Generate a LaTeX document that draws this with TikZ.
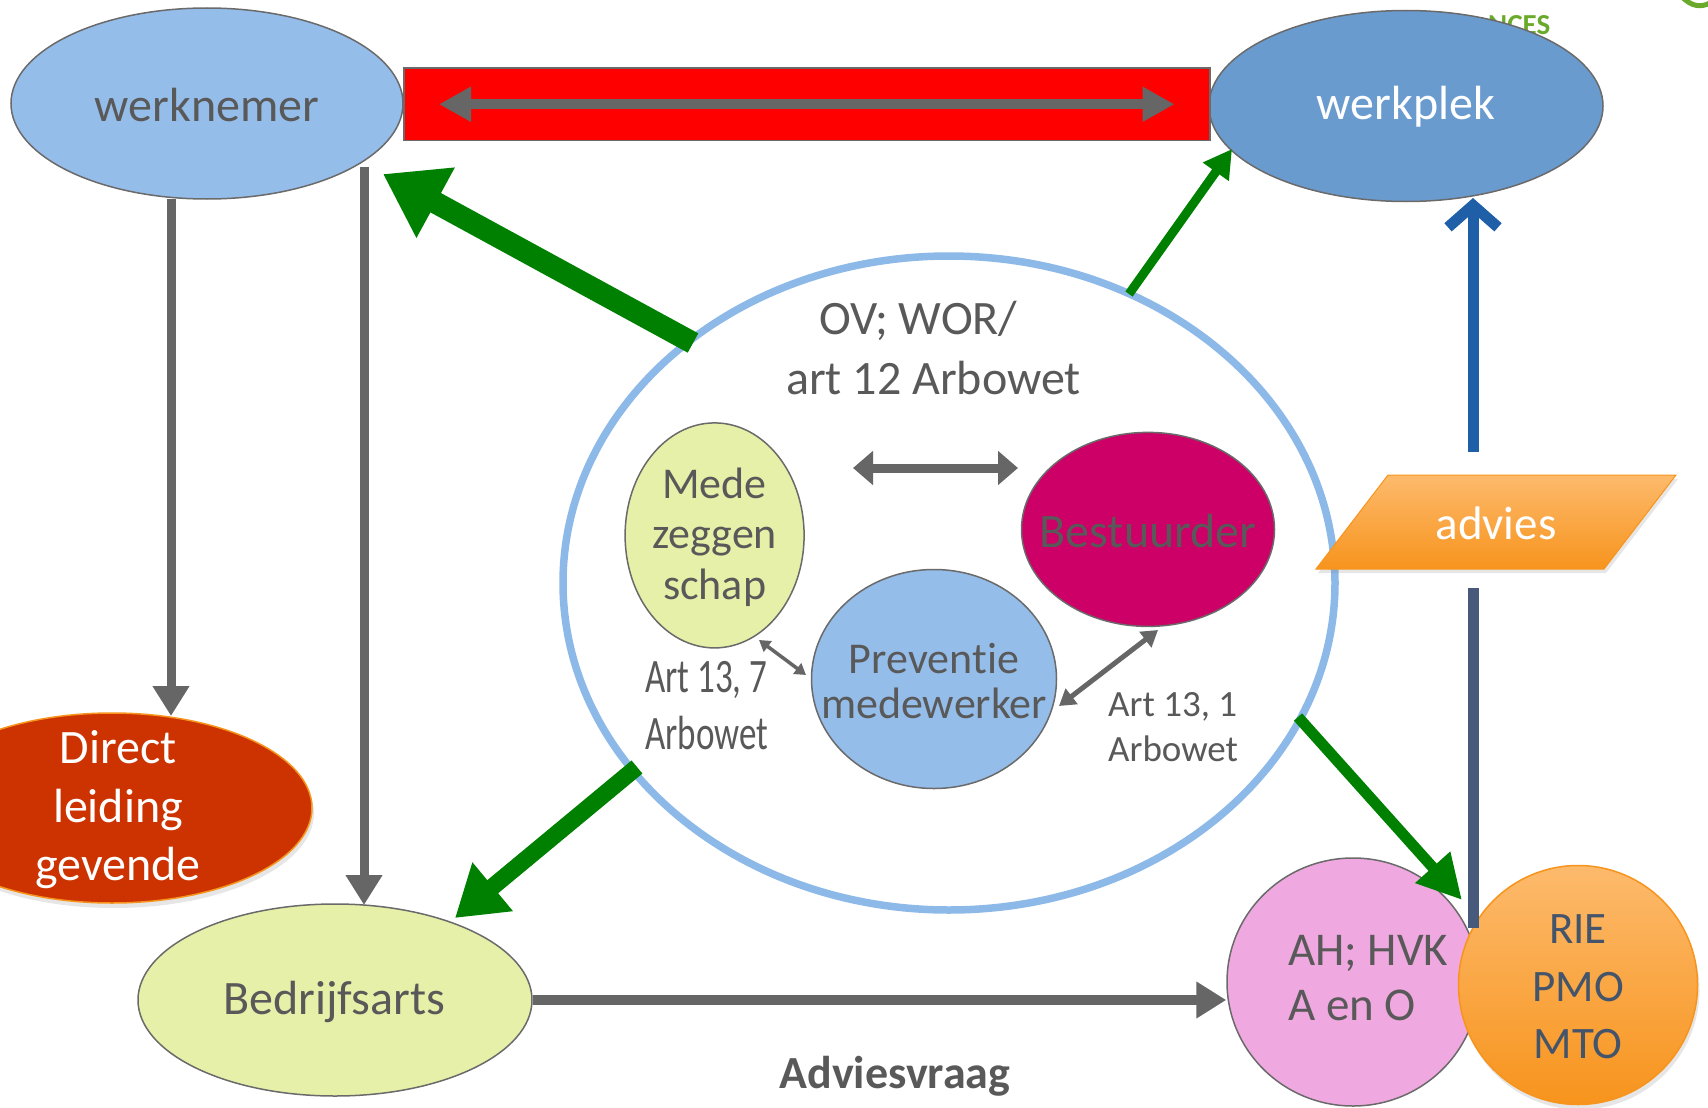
\documentclass[tikz,border=0pt]{standalone}
\usepackage{fontspec}
\setmainfont[RawFeature={-liga;-clig;-calt;-dlig}]{Carlito}
\newfontfamily\condfont[FakeStretch=0.73,RawFeature={-liga;-clig;-calt;-dlig}]{Carlito}
\usetikzlibrary{arrows.meta,shapes.geometric,shadows}
\definecolor{wnblue}{HTML}{95BDE9}
\definecolor{wpblue}{HTML}{6A9BCF}
\definecolor{bigblue}{HTML}{8DB9E8}
\definecolor{lime}{HTML}{E6F0A8}
\definecolor{magent}{HTML}{CC0066}
\definecolor{pinkc}{HTML}{F0A8E0}
\definecolor{orT}{HTML}{FDBA6C}
\definecolor{orB}{HTML}{F7941D}
\definecolor{dlred}{HTML}{CC3300}
\definecolor{txtgray}{HTML}{595959}
\definecolor{arrgray}{HTML}{666666}
\definecolor{bordergray}{HTML}{6A6A6A}
\definecolor{grn}{HTML}{008000}
\definecolor{bluearr}{HTML}{1F5FA8}
\definecolor{slate}{HTML}{485A7B}
\definecolor{rietxt}{HTML}{44546A}
\definecolor{logogreen}{HTML}{6AAA2A}
\tikzset{
  ell/.style={ellipse, draw=bordergray, line width=1.5pt, inner sep=0pt},
  lbl/.style={text=txtgray, align=center, inner sep=0pt},
  fsA/.style={font=\fontsize{48}{58}\selectfont},
  fsB/.style={font=\fontsize{44}{50.6}\selectfont},
  grayarr/.style={draw=arrgray, line width=9pt, -{Triangle[length=30pt,width=35pt]}},
  greenarr/.style={draw=grn},
}
\begin{document}
\begin{tikzpicture}[x=1pt,y=-1pt]
\useasboundingbox (0,0) rectangle (1708,1108);
\clip (0,0) rectangle (1708,1108);

% logo fragment top right
\node[font=\bfseries\fontsize{29}{29}\selectfont, text=logogreen, anchor=west, inner sep=0pt] (logo) at (1488,25) {NCES};
\draw[logogreen, line width=5pt] (1683,-2) .. controls (1692,6) and (1700,8) .. (1710,3);

% top ellipses and bar
\node[ell, fill=wpblue, minimum width=394pt, minimum height=191pt] (wp) at (1406,106) {};
\node[lbl, fsA, text=white] (wpt) at (1406,107) {werkplek};
\node[ell, fill=wnblue, minimum width=392pt, minimum height=191pt] (wn) at (207,103.5) {};
\node[lbl, fsA] (wnt) at (207,105) {werknemer};
\node[draw=bordergray, fill=red, line width=1.5pt, minimum width=806pt, minimum height=72pt, inner sep=0pt, anchor=north west] (bar) at (403,67.5) {};
\draw[arrgray, line width=10pt, {Triangle[length=32pt,width=33pt]}-{Triangle[length=32pt,width=33pt]}] ([xshift=36pt]bar.west) -- ([xshift=-36pt]bar.east);

% big ellipse
\node[ellipse, draw=bigblue, line width=7.5pt, fill=white, minimum width=772pt, minimum height=654pt, inner sep=0pt] (big) at (949,583) {};
\node[lbl, fsA, anchor=west] (ov) at (819,321) {OV; WOR/};
\node[lbl, fsA, anchor=west] (art12) at (786,378) {art 12 Arbowet};

% inner nodes
\node[ell, fill=lime, minimum width=179pt, minimum height=225pt] (mz) at (714.6,535.4) {};
\node[lbl, fsB] (mzt) at (714.6,537) {Mede\\zeggen\\schap};
\node[ell, fill=magent, minimum width=253pt, minimum height=194pt] (be) at (1148,529.4) {};
\node[lbl, fsA] (bet) at (1148,531) {Bestuurder};
\node[ell, fill=wnblue, minimum width=245pt, minimum height=219pt] (pm) at (934,679) {};
\node[lbl, font=\fontsize{44}{45.6}\selectfont] (pmt) at (934,681) {Preven\kern0ptt\kern0ptie\\medewerker};

\coordinate (mb1) at (853,468);
\coordinate (mb2) at (1018,468);
\draw[arrgray, line width=9pt, {Triangle[length=20pt,width=33pt]}-{Triangle[length=20pt,width=33pt]}] (mb1) -- (mb2);
\coordinate (mp1) at (759,640);
\coordinate (mp2) at (806,675);
\draw[arrgray, line width=3.5pt, {Triangle[length=11pt,width=13pt]}-{Triangle[length=11pt,width=13pt]}] (mp1) -- (mp2);
\coordinate (bp1) at (1158,630);
\coordinate (bp2) at (1059,706);
\draw[arrgray, line width=5pt, {Triangle[length=16pt,width=19pt]}-{Triangle[length=16pt,width=19pt]}] (bp1) -- (bp2);

\node[lbl, font=\condfont\fontsize{48}{57}\selectfont, align=left, anchor=west] (a137) at (645,706) {Art 13, 7\\Arbowet};
\node[lbl, font=\fontsize{37}{45}\selectfont, align=left, anchor=west] (a131) at (1108,727) {Art 13, 1\\Arbowet};

% left nodes
\node[ellipse, draw=orB, line width=1.5pt, fill=dlred, inner sep=0pt, minimum width=400pt, minimum height=190pt, drop shadow={opacity=0.2, shadow xshift=2pt, shadow yshift=-5pt}] (dl) at (112,808) {};
\node[lbl, text=white, font=\fontsize{48}{58.5}\selectfont] (dlt) at (118,810) {Direct\\leiding\\gevende};
\node[ell, fill=lime, minimum width=394pt, minimum height=192pt] (ba) at (335,1000) {};
\node[lbl, fsA] (bat) at (334,1002) {Bedrijfsarts};

% gray arrows
\coordinate (g1s) at (171,199);
\coordinate (g1e) at (171,716);
\draw[grayarr] (g1s) -- (g1e);
\coordinate (g2s) at (364,167);
\coordinate (g2e) at (364,905);
\draw[grayarr] (g2s) -- (g2e);

% bottom right nodes
\node[ell, fill=pinkc, minimum width=252pt, minimum height=248pt] (ah) at (1353,982) {};
\node[lbl, font=\fontsize{47}{55}\selectfont, align=left, anchor=west] (aht) at (1288,978) {AH; HVK\\A en O};
\draw[grayarr, line width=10pt] (ba.east) -- (ba.east -| ah.west);
\node[circle, draw=orB, line width=1.5pt, top color=orT, bottom color=orB, inner sep=0pt, minimum size=239pt, drop shadow={opacity=0.2, shadow xshift=2pt, shadow yshift=-5pt}] (rie) at (1578,985) {};
\node[lbl, text=rietxt, font=\fontsize{45}{57.5}\selectfont] (riet) at (1578,987) {RIE\\PMO\\MTO};

% advies
\path[top color=orT, bottom color=orB, draw=orB, line width=1pt, drop shadow={opacity=0.2, shadow xshift=2pt, shadow yshift=-4pt}] (1316,569) -- (1388,475) -- (1676,475) -- (1604,569) -- cycle;
\node[lbl, text=white, font=\fontsize{47}{56}\selectfont] (adv) at (1496,523) {advies};

\coordinate (sl1) at (1473,588);
\coordinate (sl2) at (1473,928);
\draw[slate, line width=11pt] (sl1) -- (sl2);
\coordinate (bl1) at (1473,452);
\coordinate (bl2) at (1473,198);
\draw[bluearr, line width=11pt, -{Straight Barb[length=22pt,width=50pt]}] (bl1) -- (bl2);

% green arrows
\coordinate (gr1s) at (693,343);
\coordinate (gr1e) at (383,174);
\draw[greenarr, line width=22pt, -{Triangle[length=60pt,width=76pt]}] (gr1s) -- (gr1e);
\coordinate (gr2s) at (1129,294);
\coordinate (gr2e) at (1232,149);
\draw[greenarr, line width=9pt, -{Triangle[length=28pt,width=30pt]}] (gr2s) -- (gr2e);
\coordinate (gr3s) at (637,767);
\coordinate (gr3e) at (455,918);
\draw[greenarr, line width=17pt, -{Triangle[length=49pt,width=60pt]}] (gr3s) -- (gr3e);
\coordinate (gr4s) at (1298,717);
\coordinate (gr4e) at (1462,900);
\draw[greenarr, line width=11pt, -{Triangle[length=44pt,width=44pt]}] (gr4s) -- (gr4e);

\node[lbl, font=\bfseries\fontsize{46}{52}\selectfont] (avr) at (895,1076) {Adviesvraag};
\end{tikzpicture}
\end{document}
